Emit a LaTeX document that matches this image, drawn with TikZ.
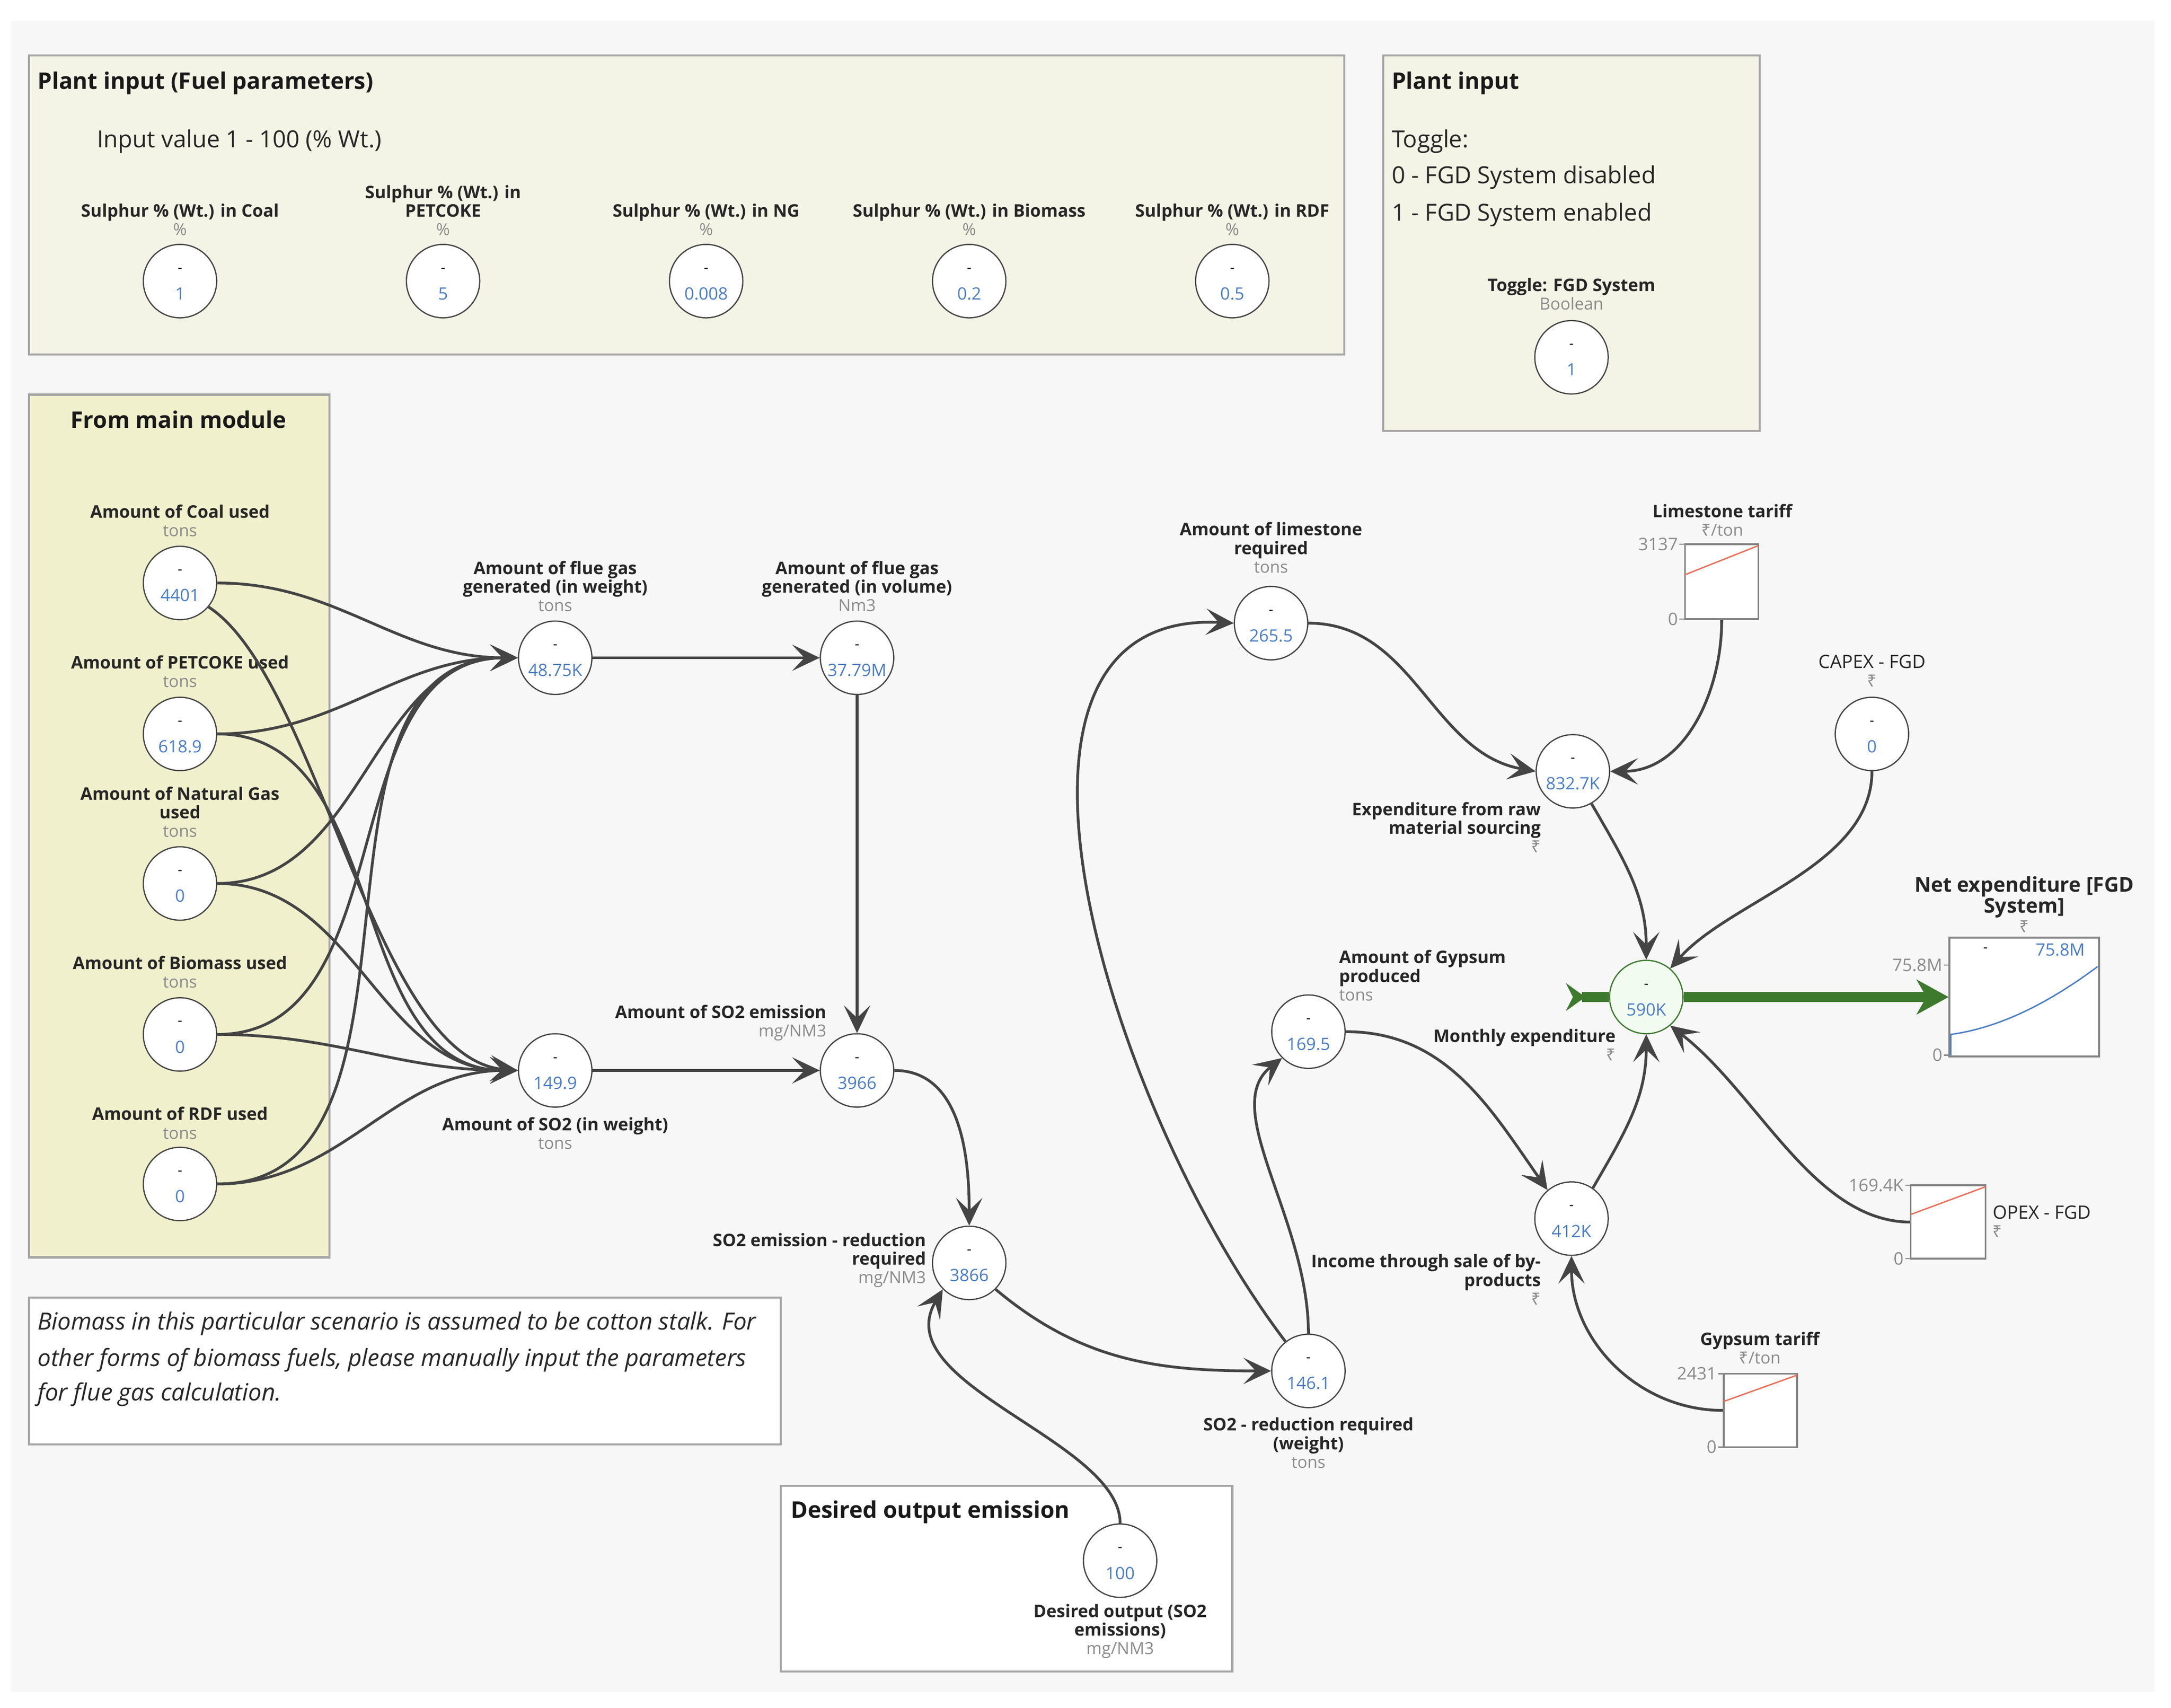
\documentclass[tikz,border=0pt]{standalone}
\usepackage{fontspec}
\setmainfont{Open Sans}
\newfontfamily\rupfont{Noto Sans}
\usetikzlibrary{arrows.meta}
\definecolor{bgc}{HTML}{F7F7F7}
\definecolor{boxa}{HTML}{F4F4E6}
\definecolor{boxc}{HTML}{F0F0CD}
\definecolor{boxline}{HTML}{A5A5A5}
\definecolor{linec}{HTML}{444444}
\definecolor{valc}{HTML}{4A7CC4}
\definecolor{unitc}{HTML}{8A8A8A}
\definecolor{flowc}{HTML}{3D7A2E}
\definecolor{redc}{HTML}{E8705A}
\definecolor{greenfill}{HTML}{F2FBF0}
\newcommand{\rs}{{\rupfont ₹}}
\newcommand{\uu}[1]{{\color{unitc}\mdseries\fontsize{12}{12}\selectfont #1}}
\newcommand{\vnode}[4]{%
  \node[vc] (#1) at (#2,#3) {};
  \node[dashtxt] (#1-d) at (#2,#3-8) {-};
  \node[valtxt] (#1-v) at (#2,#3+9) {#4};}
\newcommand{\tickl}[3]{%
  \draw[unitc, line width=0.8pt] (#1-4,#2) -- (#1,#2);
  \node[tickst] (#3) at (#1-4,#2) {};}
\begin{document}
\begin{tikzpicture}[x=1pt,y=-1pt,
  vc/.style={circle, draw=linec, line width=0.9pt, fill=white, minimum size=53pt, inner sep=0pt},
  dashtxt/.style={font=\fontsize{10}{12}\selectfont, text=black, inner sep=0pt},
  valtxt/.style={font=\fontsize{12.3}{13}\selectfont, text=valc, inner sep=0pt},
  lbl/.style={font=\bfseries\fontsize{12.5}{13.4}\selectfont, align=center, text=black!85, inner sep=0pt},
  lblr/.style={lbl, align=right, anchor=east},
  lbll/.style={lbl, align=left, anchor=west},
  grp/.style={draw=boxline!80!black, line width=1.3pt, fill=white, inner sep=0pt},
  tickst/.style={font=\fontsize{12.5}{13}\selectfont, text=unitc, anchor=east, inner sep=1pt},
  conn/.style={draw=linec, line width=2pt, -{Stealth[length=20pt,width=19pt,inset=9pt]}},
  boxst/.style={draw=boxline, line width=1.5pt},
  titlest/.style={font=\bfseries\fontsize{16.5}{18}\selectfont, anchor=west, inner sep=0pt, text=black!90},
  bodyst/.style={font=\fontsize{17}{19}\selectfont, anchor=west, inner sep=0pt, text=black!85},
  notest/.style={font=\itshape\fontsize{17.1}{19}\selectfont, anchor=west, inner sep=0pt, text=black!85},
  flow/.style={draw=flowc, line width=7.5pt, -{Stealth[length=23pt,width=25pt,inset=7pt]}}
]
\useasboundingbox (0,0) rectangle (1568,1233.4);
\fill[white] (0,0) rectangle (1568,1233.4);
\fill[bgc] (8,15) rectangle (1556,1222);

% ---------- boxes ----------
\draw[boxst, fill=boxa] (21,40) rectangle (971,256);
\draw[boxst, fill=boxa] (999,40) rectangle (1271,311);
\draw[boxst, fill=boxc] (21,285) rectangle (238,908);
\draw[boxst, fill=white] (21,937) rectangle (564,1043);
\draw[boxst, fill=white] (564,1073) rectangle (890,1207);

\node[titlest] (t-fuel) at (27,60) {Plant input (Fuel parameters)};
\node[bodyst] (t-inp) at (70,102) {Input value 1 - 100 (\% Wt.)};
\node[titlest] (t-plant) at (1005,60) {Plant input};
\node[bodyst] (t-tog) at (1005,102) {Toggle:};
\node[bodyst] (t-tog0) at (1005,128) {0 - FGD System disabled};
\node[bodyst] (t-tog1) at (1005,155) {1 - FGD System enabled};
\node[titlest, anchor=center] (t-main) at (129,303) {From main module};
\node[notest] (n1) at (27,956) {Biomass in this particular scenario is assumed to be cotton stalk. For};
\node[notest] (n2) at (27,982) {other forms of biomass fuels, please manually input the parameters};
\node[notest] (n3) at (27,1007) {for flue gas calculation.};
\node[titlest] (t-des) at (571,1092) {Desired output emission};

% ---------- variable nodes ----------
\vnode{sc}{130}{203}{1}
\vnode{sp}{320}{203}{5}
\vnode{sn}{510}{203}{0.008}
\vnode{sb}{700}{203}{0.2}
\vnode{sr}{890}{203}{0.5}
\vnode{tog}{1135}{258}{1}
\vnode{coal}{130}{421}{4401}
\vnode{pet}{130}{530}{618.9}
\vnode{ng}{130}{638}{0}
\vnode{bio}{130}{747}{0}
\vnode{rdf}{130}{855}{0}
\vnode{fgw}{401}{475}{48.75K}
\vnode{fgv}{619}{475}{37.79M}
\vnode{so2w}{401}{773}{149.9}
\vnode{so2e}{619}{773}{3966}
\vnode{so2red}{700}{912}{3866}
\vnode{so2rw}{945}{990}{146.1}
\vnode{lime}{918}{450}{265.5}
\vnode{expraw}{1136}{557}{832.7K}
\vnode{capex}{1352}{530}{0}
\vnode{gyp}{945}{745}{169.5}
\vnode{income}{1135}{880}{412K}
\vnode{desired}{809}{1127}{100}
\node[vc, draw=flowc, fill=greenfill] (monthly) at (1189,720) {};
\node[dashtxt] (monthly-d) at (1189,712) {-};
\node[valtxt] (monthly-v) at (1189,729) {590K};

% ---------- labels ----------
\node[lbl] (l-sc) at (130,158.5) {Sulphur \% (Wt.) in Coal\\\uu{\%}};
\node[lbl] (l-sp) at (320,152) {Sulphur \% (Wt.) in\\PETCOKE\\\uu{\%}};
\node[lbl] (l-sn) at (510,158.5) {Sulphur \% (Wt.) in NG\\\uu{\%}};
\node[lbl] (l-sb) at (700,158.5) {Sulphur \% (Wt.) in Biomass\\\uu{\%}};
\node[lbl] (l-sr) at (890,158.5) {Sulphur \% (Wt.) in RDF\\\uu{\%}};
\node[lbl] (l-tog) at (1135,212.5) {Toggle: FGD System\\\uu{Boolean}};
\node[lbl] (l-coal) at (130,376) {Amount of Coal used\\\uu{tons}};
\node[lbl] (l-pet) at (130,485) {Amount of PETCOKE used\\\uu{tons}};
\node[lbl] (l-ng) at (130,586.5) {Amount of Natural Gas\\used\\\uu{tons}};
\node[lbl] (l-bio) at (130,702) {Amount of Biomass used\\\uu{tons}};
\node[lbl] (l-rdf) at (130,811) {Amount of RDF used\\\uu{tons}};
\node[lbl] (l-fgw) at (401,423.5) {Amount of flue gas\\generated (in weight)\\\uu{tons}};
\node[lbl] (l-fgv) at (619,423.5) {Amount of flue gas\\generated (in volume)\\\uu{Nm3}};
\node[lbl] (l-so2w) at (401,818.5) {Amount of SO2 (in weight)\\\uu{tons}};
\node[lblr] (l-so2e) at (597,738.5) {Amount of SO2 emission\\\uu{mg/NM3}};
\node[lblr] (l-so2red) at (669,910) {SO2 emission - reduction\\required\\\uu{mg/NM3}};
\node[lbl] (l-so2rw) at (945,1042) {SO2 - reduction required\\(weight)\\\uu{tons}};
\node[lbl] (l-lime) at (918,395.5) {Amount of limestone\\required\\\uu{tons}};
\node[lblr] (l-expraw) at (1113,597.5) {Expenditure from raw\\material sourcing\\\uu{\rs}};
\node[lbl] (l-lt) at (1244,375.5) {Limestone tariff\\\uu{\rs/ton}};
\node[lbl, font=\fontsize{13.3}{13.4}\selectfont] (l-capex) at (1352,484.5) {CAPEX - FGD\\\uu{\rs}};
\node[lblr] (l-monthly) at (1167,754.5) {Monthly expenditure\\\uu{\rs}};
\node[lbll] (l-gyp) at (967,704.5) {Amount of Gypsum\\produced\\\uu{tons}};
\node[lblr] (l-income) at (1113,924) {Income through sale of by-\\products\\\uu{\rs}};
\node[lbl] (l-gt) at (1271,973.5) {Gypsum tariff\\\uu{\rs/ton}};
\node[lbll, font=\fontsize{13.3}{13.4}\selectfont] (l-opex) at (1439,882) {OPEX - FGD\\\uu{\rs}};
\node[lbl, font=\bfseries\fontsize{14.7}{14}\selectfont] (l-net) at (1462,653) {Net expenditure [FGD\\System]\\\uu{\rs}};
\node[lbl] (l-des) at (809,1178) {Desired output (SO2\\emissions)\\\uu{mg/NM3}};

% ---------- graph boxes ----------
\node[grp, minimum width=53pt, minimum height=54pt] (lt) at (1243.5,420) {};
\draw[redc, line width=1pt] (1217,415) -- (1270,394);
\tickl{1217}{393}{lt-max}
\node[tickst] at (1213,393) {3137};
\tickl{1217}{447}{lt-min}
\node[tickst] at (1213,447) {0};

\node[grp, minimum width=53pt, minimum height=53pt] (gt) at (1271.5,1018.5) {};
\draw[redc, line width=1pt] (1245,1012) -- (1298,993);
\tickl{1245}{992}{gt-max}
\node[tickst] at (1241,992) {2431};
\tickl{1245}{1045}{gt-min}
\node[tickst] at (1241,1045) {0};

\node[grp, minimum width=54pt, minimum height=53pt] (opex) at (1407,882.5) {};
\draw[redc, line width=1pt] (1380,877) -- (1434,857);
\tickl{1380}{856}{op-max}
\node[tickst] at (1376,856) {169.4K};
\tickl{1380}{909}{op-min}
\node[tickst] at (1376,909) {0};

\node[grp, minimum width=108pt, minimum height=86pt] (net) at (1462,720) {};
\draw[valc, line width=1pt] (1409,762) -- (1409,747) .. controls (1445,742) and (1480,724) .. (1515,698);
\tickl{1408}{697}{net-max}
\node[tickst] at (1404,697) {75.8M};
\tickl{1408}{762}{net-min}
\node[tickst] at (1404,762) {0};
\node[dashtxt] (net-d) at (1434,686) {-};
\node[valtxt] (net-v) at (1488,686) {75.8M};

% ---------- connectors ----------
\draw[conn] (coal.east) to[out=0,in=180] (fgw.west);
\draw[conn] (pet.east) to[out=0,in=180] (fgw.west);
\draw[conn] (ng.east) to[out=0,in=180] (fgw.west);
\draw[conn] (bio.east) to[out=0,in=180] (fgw.west);
\draw[conn] (rdf.east) to[out=0,in=180] (fgw.west);
\draw[conn] (coal.-40) .. controls (230,490) and (270,765) .. (so2w.west);
\draw[conn] (pet.east) to[out=0,in=180] (so2w.west);
\draw[conn] (ng.east) to[out=0,in=180] (so2w.west);
\draw[conn] (bio.east) to[out=0,in=180] (so2w.west);
\draw[conn] (rdf.east) to[out=0,in=180] (so2w.west);
\draw[conn] (fgw) -- (fgv);
\draw[conn] (fgv) -- (so2e);
\draw[conn] (so2w) -- (so2e);
\draw[conn] (so2e.east) to[out=0,in=90] (so2red.north);
\draw[conn] (so2red.-45) to[out=-40,in=180] (so2rw.west);
\draw[conn] (desired.north) .. controls (809,1040) and (640,1000) .. (so2red.-135);
\draw[conn] (so2rw.128) .. controls (800,800) and (690,440) .. (lime.west);
\draw[conn] (so2rw.north) .. controls (945,880) and (880,800) .. (gyp.-135);
\draw[conn] (lime.east) to[out=0,in=170] (expraw.west);
\draw[conn] (lt.south) to[out=-90,in=0] (expraw.east);
\draw[conn] (expraw.-60) to[out=-60,in=90] (monthly.north);
\draw[conn] (capex.south) .. controls (1352,625) and (1250,650) .. (monthly.50);
\draw[conn] (gyp.east) to[out=0,in=125] (income.130);
\draw[conn] (income.55) to[out=60,in=-90] (monthly.south);
\draw[conn] (gt.west) to[out=180,in=-90] (income.south);
\draw[conn] (opex.west) .. controls (1310,882) and (1270,790) .. (monthly.-50);
\draw[flow] (monthly.east) -- (net.west);
\coordinate (src) at (1131,720);
\draw[flowc, line width=7.5pt, {Stealth[reversed,length=14pt,width=20pt,inset=5pt]}-] (src) -- (monthly.west);
\end{tikzpicture}
\end{document}
